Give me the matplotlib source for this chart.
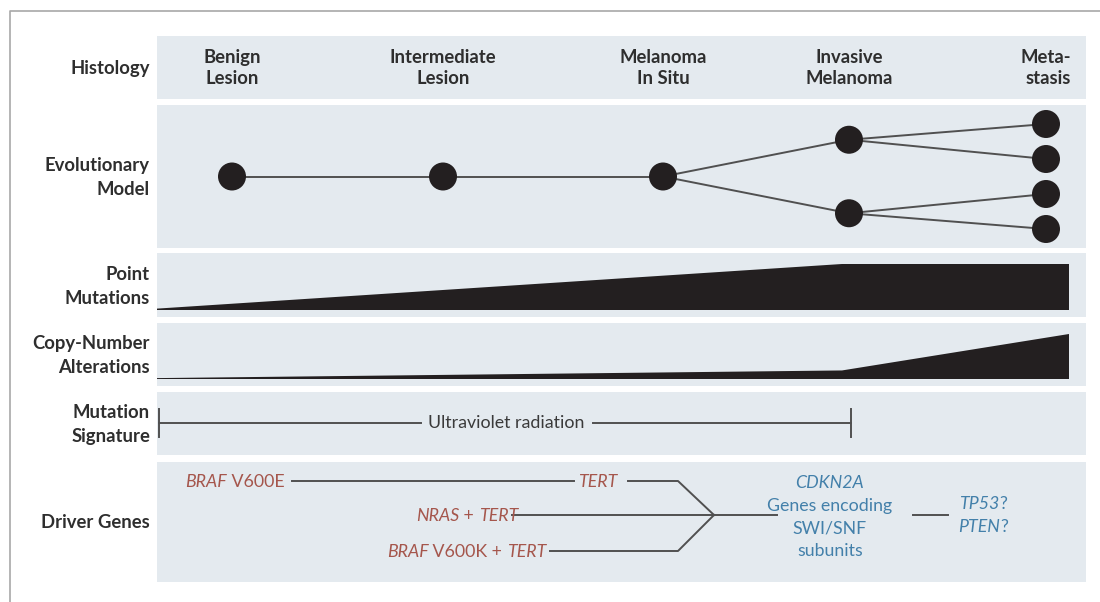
import matplotlib
matplotlib.use("Agg")
import matplotlib.pyplot as plt
from matplotlib.patches import Rectangle, Circle, Polygon

plt.rcParams['font.family'] = ['Lato', 'DejaVu Sans']

# --- data ---
stage_labels = ["Benign\nLesion", "Intermediate\nLesion", "Melanoma\nIn Situ",
                "Invasive\nMelanoma", "Meta-\nstasis"]
row_labels = ["Histology", "Evolutionary\nModel", "Point\nMutations",
              "Copy-Number\nAlterations", "Mutation\nSignature", "Driver Genes"]

# evolutionary tree: node -> (stage index, vertical level)
evo_nodes = {
    "benign": (0, 0), "intermediate": (1, 0), "in_situ": (2, 0),
    "inv_a": (3, -1.05), "inv_b": (3, 1.05),
    "met1": (4, -1.5), "met2": (4, -0.5), "met3": (4, 0.5), "met4": (4, 1.5),
}
evo_edges = [("benign", "intermediate"), ("intermediate", "in_situ"),
             ("in_situ", "inv_a"), ("in_situ", "inv_b"),
             ("inv_a", "met1"), ("inv_a", "met2"),
             ("inv_b", "met3"), ("inv_b", "met4")]

# relative burden at start / invasive / end of the timeline
point_mut_burden = [0.03, 1.0, 1.0]
copy_num_burden = [0.02, 0.19, 1.0]

signature_label = "Ultraviolet radiation"

# driver genes: lists of (text, italic)
braf_e = [("BRAF", True), (" V600E", False)]
tert = [("TERT", True)]
nras = [("NRAS", True), (" + ", False), ("TERT", True)]
braf_k = [("BRAF", True), (" V600K + ", False), ("TERT", True)]
late_genes = [("CDKN2A", True), ("Genes encoding", False), ("SWI/SNF", False), ("subunits", False)]
suspect_genes = [("TP53", True, "?"), ("PTEN", True, "?")]

# --- layout (pixels) ---
stage_x = [232, 443, 663, 849, 1046]
row_top = [36, 105, 253, 323, 392, 462]
row_bot = [99, 248, 317, 386, 455, 582]
panel_left, panel_right = 157, 1086
burden_x = [157, 842, 1069]
evo_center, evo_unit, node_r = 176.5, 35, 14

panel_col = "#e4eaef"
ink = "#231f20"
line_col = "#505050"
label_col = "#2e2e2e"
red = "#a5564c"
blue = "#4380aa"
fs_bold = 13.3
fs = 12.8

fig = plt.figure(figsize=(11, 6.02), dpi=100)
ax = fig.add_axes([0, 0, 1, 1])
ax.set_xlim(0, 1100)
ax.set_ylim(602, 0)
ax.axis("off")

# outer frame
ax.plot([10, 10, 1100], [602, 11, 11], color="#a8a8a8", lw=1.2)

# panels and row labels
for lab, t, b in zip(row_labels, row_top, row_bot):
    ax.add_patch(Rectangle((panel_left, t), panel_right - panel_left, b - t,
                           facecolor=panel_col, edgecolor="none"))
    ax.text(150, (t + b) / 2 + 1, lab, ha="right", va="center", fontsize=fs_bold,
            fontweight="bold", color=label_col, linespacing=1.5)

# histology
for i, (lab, x) in enumerate(zip(stage_labels, stage_x)):
    last = i == len(stage_labels) - 1
    ax.text(x + 25 if last else x, 68, lab, ha="right" if last else "center",
            va="center", fontsize=fs_bold, fontweight="bold", color=label_col,
            linespacing=1.35, multialignment="right" if last else "center")


def node_xy(name):
    s, lev = evo_nodes[name]
    return stage_x[s], evo_center + lev * evo_unit


for a, b in evo_edges:
    (x0, y0), (x1, y1) = node_xy(a), node_xy(b)
    ax.plot([x0, x1], [y0, y1], color=line_col, lw=1.4, zorder=2)
for n in evo_nodes:
    ax.add_patch(Circle(node_xy(n), node_r, facecolor=ink, edgecolor="none", zorder=3))


def burden_wedge(top, bot, values):
    h = (bot - top) - 18
    base = bot - 7
    pts = [(x, base - v * h) for x, v in zip(burden_x, values)]
    pts += [(burden_x[-1], base), (burden_x[0], base)]
    ax.add_patch(Polygon(pts, closed=True, facecolor=ink, edgecolor="none"))


burden_wedge(row_top[2], row_bot[2], point_mut_burden)
burden_wedge(row_top[3], row_bot[3], copy_num_burden)

# mutation signature
sig_y = 423
ax.plot([159, 421], [sig_y, sig_y], color=line_col, lw=1.4)
ax.plot([593, 851], [sig_y, sig_y], color=line_col, lw=1.4)
for x in (159, 851):
    ax.plot([x, x], [sig_y - 14, sig_y + 14], color=line_col, lw=1.4)
ax.text(506, sig_y, signature_label, ha="center", va="center", fontsize=fs,
        color="#3a3a3a")

# driver genes
renderer = fig.canvas.get_renderer()


def rich(x, y, parts, ha, color):
    arts = []
    for txt, it in parts:
        arts.append(ax.text(0, y, txt, fontsize=fs, color=color, va="baseline",
                            style="italic" if it else "normal"))
    widths = [a.get_window_extent(renderer).width for a in arts]
    total = sum(widths)
    start = {"left": x, "right": x - total, "center": x - total / 2}[ha]
    for a, w in zip(arts, widths):
        a.set_x(start)
        start += w
    return arts


rich(185, 487, braf_e, "left", red)
rich(578, 487, tert, "left", red)
rich(518, 521, nras, "right", red)
rich(546, 557, braf_k, "right", red)

ax.plot([292, 574], [481, 481], color=line_col, lw=1.4)
ax.plot([628, 678, 714], [481, 481, 515], color=line_col, lw=1.4)
ax.plot([512, 777], [515, 515], color=line_col, lw=1.4)
ax.plot([550, 678, 714], [551, 551, 515], color=line_col, lw=1.4)

for i, (txt, it) in enumerate(late_genes):
    rich(830, 488 + i * 22.5, [(txt, it)], "center", blue)
ax.plot([913, 948], [515, 515], color=line_col, lw=1.4)
for i, (g, it, q) in enumerate(suspect_genes):
    rich(983, 509 + i * 23.5, [(g, it), (q, False)], "center", blue)

fig.savefig("out.png", dpi=100)
